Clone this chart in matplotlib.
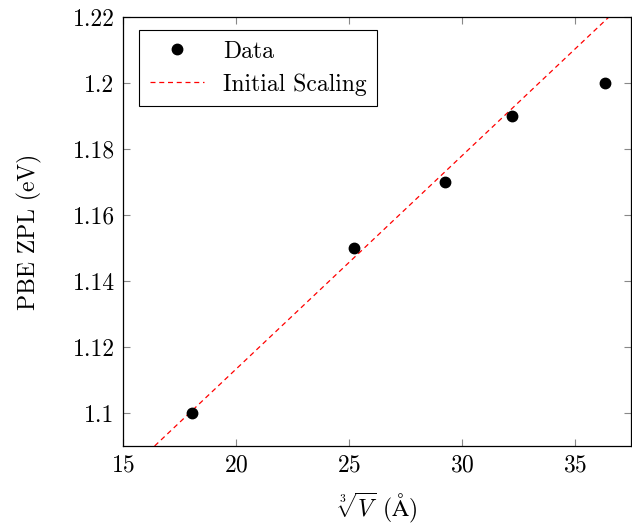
import matplotlib
matplotlib.use('Agg')
import matplotlib.pyplot as plt

# data
vol_root = [18.05, 25.22, 29.25, 32.21, 36.33]
zpl = [1.10, 1.15, 1.17, 1.19, 1.20]

# initial scaling line (end points)
scale_x = [16.4, 36.5]
scale_y = [1.09, 1.22]

plt.rcParams['font.family'] = 'serif'
plt.rcParams['font.serif'] = ['cmr10']
plt.rcParams['mathtext.fontset'] = 'cm'
plt.rcParams['axes.formatter.use_mathtext'] = True

fig = plt.figure(figsize=(6.32, 5.25), dpi=100)
ax = fig.add_axes([0.1946, 0.1505, 0.8046, 0.8171])

ax.plot(vol_root, zpl, 'o', color='black', markersize=7.5, label='Data', zorder=3)
ax.plot(scale_x, scale_y, '--', color='red', linewidth=0.9, dashes=(4, 3), label='Initial Scaling')

ax.set_xlim(15, 37.5)
ax.set_ylim(1.09, 1.22)
ax.set_xticks([15, 20, 25, 30, 35])
ax.set_yticks([1.10, 1.12, 1.14, 1.16, 1.18, 1.20, 1.22])
ax.set_yticklabels(['1.1', '1.12', '1.14', '1.16', '1.18', '1.2', '1.22'])

ax.tick_params(direction='in', length=5, width=0.8, color='#888888', top=True, right=True,
               labelsize=17, pad=6)
for s in ax.spines.values():
    s.set_linewidth(0.9)

ax.set_xlabel(r'$\sqrt[3]{V}$ ($\mathrm{\AA}$)', fontsize=17, labelpad=10)
ax.set_ylabel('PBE ZPL (eV)', fontsize=17, labelpad=22)

leg = ax.legend(loc='upper left', bbox_to_anchor=(0.032, 0.97), fancybox=False, edgecolor='black',
                framealpha=1, handlelength=2.3, borderpad=0.45, labelspacing=0.45, fontsize=17,
                borderaxespad=0)
leg.get_frame().set_linewidth(0.8)

fig.savefig('out.png', dpi=100)
